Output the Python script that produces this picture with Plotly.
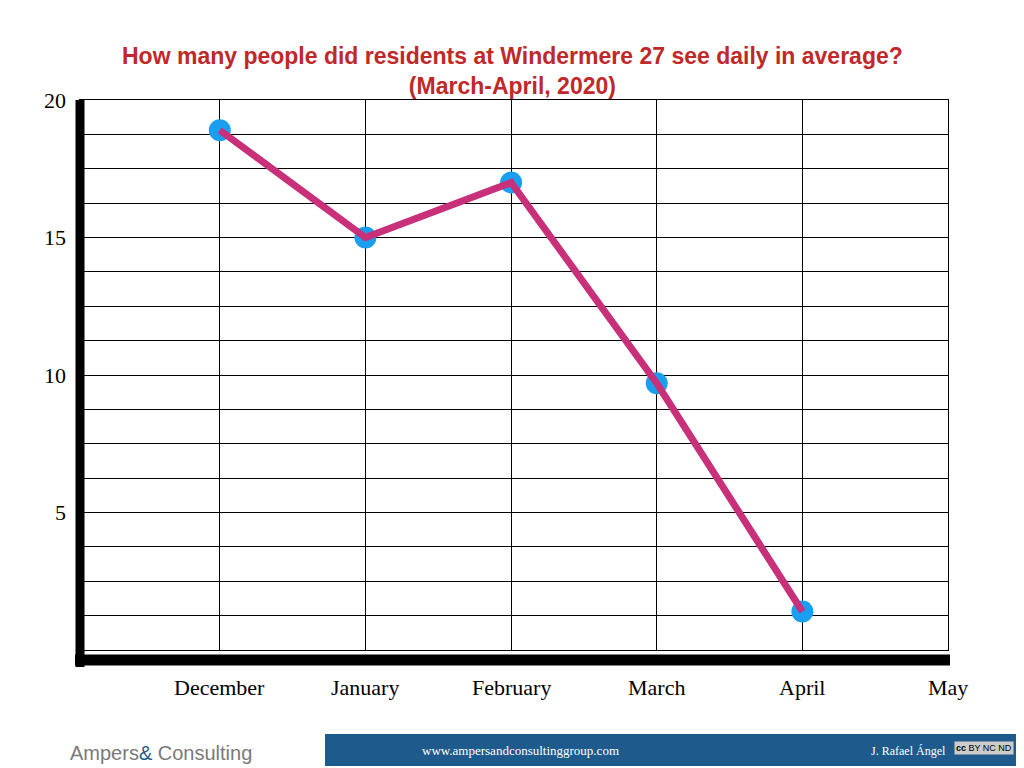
import plotly.graph_objects as go

months = ["December", "January", "February", "March", "April"]
people = [18.9, 15.0, 17.0, 9.7, 1.4]
x_labels = ["December", "January", "February", "March", "April", "May"]
y_ticks = [5, 10, 15, 20]

# page has an 8px body margin, so work in screen pixels and shift
OFF = 8
W, H = 1024 - OFF, 768 - OFF
L, R, T, B = 80 - OFF, 76, 100 - OFF, 118


def px(x):
    return (x - OFF - L) / (W - L - R)


def py(y):
    return 1 - (y - OFF - T) / (H - T - B)


def note(x, y, text, size, color, family, **kw):
    fig.add_annotation(xref="paper", yref="paper", x=px(x), y=py(y), text=text,
                       showarrow=False, xanchor=kw.pop("xanchor", "center"),
                       yanchor="middle", font=dict(family=family, size=size, color=color), **kw)


fig = go.Figure()
fig.add_trace(go.Scatter(
    x=list(range(len(months))), y=people, mode="markers",
    marker=dict(color="#1a9ff0", size=22), hoverinfo="skip"))
fig.add_trace(go.Scatter(
    x=list(range(len(months))), y=people, mode="lines",
    line=dict(color="#c8307a", width=7), hoverinfo="skip"))

serif = "Liberation Serif"
sans = "Liberation Sans"
fig.update_layout(
    width=W, height=H, showlegend=False,
    margin=dict(l=L, r=R, t=T, b=B),
    plot_bgcolor="white", paper_bgcolor="white",
    xaxis=dict(range=[-0.96, 5], showticklabels=False, tickvals=[0, 1, 2, 3, 4, 5],
               showgrid=True, gridcolor="black", gridwidth=1, zeroline=False,
               showline=True, linecolor="black", mirror=True),
    yaxis=dict(range=[0, 20], dtick=1.25, showticklabels=False,
               showgrid=True, gridcolor="black", gridwidth=1, zeroline=False,
               showline=True, linecolor="black", mirror=True),
)

note(512, 71, "<b>How many people did residents at Windermere 27 see daily in average?<br>(March-April, 2020)</b>",
     23, "#c0282a", sans)

# thick axes
fig.add_shape(type="line", xref="paper", yref="paper", x0=px(80), x1=px(80),
              y0=py(100), y1=py(667), line=dict(color="black", width=9))
fig.add_shape(type="line", xref="paper", yref="paper", x0=px(75), x1=px(950),
              y0=py(660), y1=py(660), line=dict(color="black", width=11))

for v in y_ticks:
    fig.add_annotation(xref="paper", yref="y", x=px(68), y=v, text=str(v),
                       showarrow=False, xanchor="right", yanchor="middle",
                       font=dict(family=serif, size=22, color="black"))
for i, lab in enumerate(x_labels):
    fig.add_annotation(xref="x", yref="paper", x=i, y=py(687), text=lab,
                       showarrow=False, xanchor="center", yanchor="middle",
                       font=dict(family=serif, size=22, color="black"))

# footer
fig.add_shape(type="rect", xref="paper", yref="paper", x0=px(325), x1=px(1024),
              y0=py(766), y1=py(734), fillcolor="#1f5a8c", line=dict(width=0))
note(520, 750, "www.ampersandconsultinggroup.com", 13, "white", serif)
note(908, 751, "J. Rafael Ángel", 12, "white", serif)
note(984, 748, "<b>cc</b> BY NC ND", 9, "black", sans, bgcolor="#cccccc")
note(68, 753, "Ampers<span style='color:#1f5a8c'>&</span> Consulting", 20, "#7a7a7a", sans,
     xanchor="left")

fig.write_html("out.html")
